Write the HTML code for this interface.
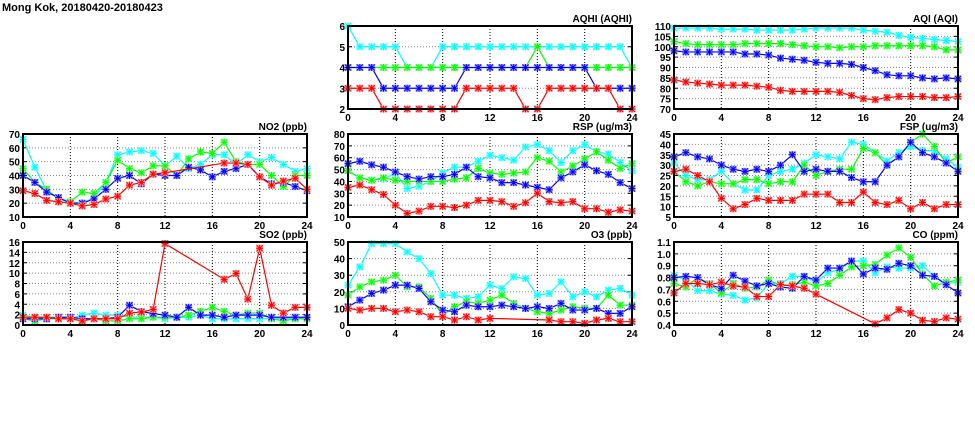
<!DOCTYPE html>
<html><head><meta charset="utf-8"><style>
html,body{margin:0;padding:0;background:#fff;}
svg{display:block;font-family:"Liberation Sans",sans-serif;}
text{font-weight:bold;font-size:10px;fill:#000;}
</style></head><body>
<svg id="chart" width="975" height="447" viewBox="0 0 975 447" xmlns="http://www.w3.org/2000/svg">
<text x="2" y="11" style="font-size:11px">Mong Kok, 20180420-20180423</text>
</svg>
<script>
const hours = [0,1,2,3,4,5,6,7,8,9,10,11,12,13,14,15,16,17,18,19,20,21,22,23,24];
const xTicks = [0,4,8,12,16,20,24];
const seriesColors = ["#00ffff","#00ff00","#0000ff","#ff0000"];
const seriesLight = ["#a0ffff","#a0ffa0","#a0a0ff","#ffa0a0"];

const aqhiCyan = [6,5,5,5,5,4,4,4,5,5,5,5,5,5,5,5,5,5,5,5,5,5,5,5,4];
const aqhiGreen = [4,4,4,4,4,4,4,4,4,4,4,4,4,4,4,4,5,4,4,4,4,4,4,4,4];
const aqhiBlue = [4,4,4,3,3,3,3,3,3,3,4,4,4,4,4,4,4,4,4,4,4,3,3,3,3];
const aqhiRed = [3,3,3,2,2,2,2,2,2,2,3,3,3,3,3,2,2,3,3,3,3,3,3,2,2];
const aqhiTicks = [2,3,4,5,6];

const aqiCyan = [109,109,109,109,108.5,108.5,108.5,108,108,108,108,108.5,109,109,109,109,108,107.5,107,105.5,104.5,104,103.5,103,102.5];
const aqiGreen = [102.5,101.5,101,101,101,101,101.5,101.5,101.5,101.5,101,100.5,100,100,99.5,100,100,100.5,100.5,100.5,100.5,100.5,100,98.5,98.5];
const aqiBlue = [98,97.5,97.5,97.5,97.5,97.5,96.5,96.5,96,94.5,94,93.5,92.5,92,92,91.5,90,88.5,86.5,86,86,85,84.5,85,84.5];
const aqiRed = [84,83,82.5,82,81.5,81.5,81.5,81,80.5,79,78.5,78.5,78.5,78.5,78,76.5,75,74.5,75.5,76,76,76,75.5,75.5,76];
const aqiTicks = [70,75,80,85,90,95,100,105,110];

const no2Cyan = [66,46,29,24,21,20,24,35,55,57,58,56,47,54,45,48,55,55,48,55,50,53,48,43,45];
const no2Green = [45,35,30,23,21,28,27,35,51,45,42,47,47,40,52,57,56,64,50,48,48,40,32,40,40];
const no2Blue = [40,35,28,24,20,20,23,30,38,40,34,41,40,40,46,44,39,43,45,48,39,34,35,32,29];
const no2Red = [29,27,22,21,20,18,19,23,25,33,35,41,42,null,null,null,null,49,49,48,39,33,36,38,30];
const no2Ticks = [10,20,30,40,50,60,70];

const rspCyan = [49,43,41,42,47,34,36,40,47,52,52,57,62,60,58,69,71,66,56,66,71,65,63,56,49];
const rspGreen = [49,43,41,43,41,40,40,40,40,42,43,51,47,46,47,48,60,57,48,53,59,65,58,51,55];
const rspBlue = [55,57,54,52,48,44,42,44,44,46,52,44,43,39,39,37,35,33,43,48,54,49,46,39,34];
const rspRed = [35,37,33,29,20,13,15,19,19,18,20,24,24,23,19,22,30,23,22,23,17,17,14,16,15];
const rspTicks = [10,20,30,40,50,60,70,80];

const fspCyan = [31,25,23,23,27,21,18,18,25,27,28,31,35,34,33,41,40,36,32,36,39,37,37,33,29];
const fspGreen = [27,22,20,22,21,21,23,23,21,22,22,30,25,27,28,28,38,36,30,34,41,45,39,31,34];
const fspBlue = [34,36,34,33,30,28,27,28,27,30,35,27,28,27,27,24,22,22,30,34,41,36,34,31,27];
const fspRed = [27,28,25,22,14,9,11,14,13,13,13,16,16,16,12,12,17,12,11,13,9,12,9,11,11];
const fspTicks = [5,10,15,20,25,30,35,40,45];

const so2Cyan = [1.9,1.5,1.5,1.5,1.2,1.9,2.3,1.9,1.9,1.5,1.5,1.5,1.2,1.5,1.5,1.9,1.2,1.2,1.2,1.2,1.2,1.2,1.2,1.2,1.2];
const so2Green = [1.2,0.8,1.2,1.2,1.2,0.8,1.2,0.8,0.8,1.2,1.2,1.5,1.5,1.5,1.9,2.6,3.4,2.6,1.9,2.3,2.3,1.2,0.8,1.2,1.2];
const so2Blue = [1.2,1.2,1.2,1.5,1.5,1.2,1.2,1.2,1.5,3.8,2.6,2.2,1.9,1.5,3.4,1.9,1.9,1.5,1.9,1.9,1.9,1.5,1.5,1.5,1.5];
const so2Red = [1.5,1.5,1.5,1.2,1.2,0.8,1.2,1.2,1.2,2.3,2.5,3,15.7,null,null,null,null,8.8,9.9,5,14.8,3.8,2.3,3.4,3.4];
const so2Ticks = [0,2,4,6,8,10,12,14,16];

const o3Cyan = [24,35,49,49,49,44,40,31,18,18,16,17,24,22,29,28,18,19,26,17,20,17,21,22,18];
const o3Green = [18,23,26,27,30,23,23,16,6,11,14,13,15,18,13,10,8,7,9,11,10,10,18,12,12];
const o3Blue = [11,15,19,21,24,24,22,14,9,8,12,11,11,12,11,10,11,10,13,9,9,10,7,7,11];
const o3Red = [10,9,10,10,8,9,8,5,5,3,5,3,4,null,null,null,null,3,2,2,1,3,4,2,2];
const o3Ticks = [0,10,20,30,40,50];

const coCyan = [0.82,0.78,0.69,0.69,0.66,0.65,0.61,0.63,0.75,0.75,0.81,0.81,0.76,0.84,0.87,0.94,0.94,0.84,0.89,0.88,0.88,0.90,0.81,0.75,0.76];
const coGreen = [0.75,0.72,0.80,0.75,0.67,0.75,0.71,0.72,0.78,0.73,0.74,0.76,0.73,0.75,0.82,0.89,0.90,0.91,0.99,1.05,0.97,0.83,0.73,0.76,0.78];
const coBlue = [0.80,0.81,0.80,0.74,0.71,0.82,0.77,0.73,0.75,0.72,0.71,0.81,0.78,0.88,0.88,0.94,0.83,0.88,0.87,0.92,0.90,0.82,0.81,0.74,0.67];
const coRed = [0.67,0.75,0.75,0.74,0.76,0.73,0.72,0.64,0.64,0.74,0.73,0.71,0.66,null,null,null,null,0.41,0.46,0.53,0.50,0.44,0.43,0.46,0.45];
const coTicks = [0.4,0.5,0.6,0.7,0.8,0.9,1.0,1.1];

const NS = "http://www.w3.org/2000/svg";
const svg = document.getElementById("chart");
function mk(tag, attrs, parent) {
  const e = document.createElementNS(NS, tag);
  for (const k in attrs) e.setAttribute(k, attrs[k]);
  (parent || svg).appendChild(e);
  return e;
}

function panel(name, title, left, top, series, yTicks, fmt) {
  const w = 284, h = 83;
  const ymin = yTicks[0], ymax = yTicks[yTicks.length - 1];
  const xs = v => left + (v / 24) * w;
  const ys = v => top + h - (v - ymin) / (ymax - ymin) * h;
  const g = mk("g", {});
  
  
  // grid
  yTicks.forEach((t, i) => {
    if (i > 0 && i < yTicks.length - 1) {
      const l = mk("line", {x1: left, x2: left + w, y1: ys(t), y2: ys(t), stroke: "#888", "stroke-width": 1, "stroke-dasharray": "1,2"}, g);
      
      
    }
    const tx = mk("text", {x: left - 3, y: ys(t) + 4, "text-anchor": "end"}, g);
    
    
    tx.textContent = fmt ? fmt(t) : t;
    mk("line", {x1: left, x2: left + 4, y1: ys(t), y2: ys(t), stroke: "#000"}, g);
    mk("line", {x1: left + w - 4, x2: left + w, y1: ys(t), y2: ys(t), stroke: "#000"}, g);
  });
  xTicks.forEach((t, i) => {
    if (i > 0 && i < xTicks.length - 1) {
      const l = mk("line", {x1: xs(t), x2: xs(t), y1: top, y2: top + h, stroke: "#000", "stroke-width": 1, "stroke-dasharray": "1,2"}, g);
      
      
    }
    const tx = mk("text", {x: xs(t), y: top + h + 12, "text-anchor": "middle"}, g);
    
    
    tx.textContent = t;
  });
  // series
  series.forEach((vals, si) => {
    const pts = [];
    vals.forEach((v, i) => { if (v !== null) pts.push([xs(hours[i]), ys(v)]); });
    const line = mk("polyline", {points: pts.map(p => p.join(",")).join(" "), fill: "none", stroke: seriesColors[si], "stroke-width": 1.2}, g);
    
    
    pts.forEach(p => {
      const m = mk("g", {}, g);
      
      
      mk("rect", {x: p[0] - 3.5, y: p[1] - 3.5, width: 7, height: 7, fill: seriesLight[si]}, m);
      const c = seriesColors[si];
      mk("path", {d: `M${p[0]-3},${p[1]-3}L${p[0]+3},${p[1]+3}M${p[0]-3},${p[1]+3}L${p[0]+3},${p[1]-3}M${p[0]-3.5},${p[1]}L${p[0]+3.5},${p[1]}M${p[0]},${p[1]-3.5}L${p[0]},${p[1]+3.5}`, stroke: c, "stroke-width": 1}, m);
    });
  });
  const box = mk("rect", {x: left, y: top, width: w, height: h, fill: "none", stroke: "#000", "stroke-width": 2}, g);
  
  
  const tt = mk("text", {x: left + w, y: top - 4, "text-anchor": "end"}, g);
  
  
  tt.textContent = title;
}

const c1 = 23, c2 = 348, c3 = 674;
const r1 = 26, r2 = 134, r3 = 242;
panel("aqhi", "AQHI (AQHI)", c2, r1, [aqhiCyan, aqhiGreen, aqhiBlue, aqhiRed], aqhiTicks);
panel("aqi", "AQI (AQI)", c3, r1, [aqiCyan, aqiGreen, aqiBlue, aqiRed], aqiTicks);
panel("no2", "NO2 (ppb)", c1, r2, [no2Cyan, no2Green, no2Blue, no2Red], no2Ticks);
panel("rsp", "RSP (ug/m3)", c2, r2, [rspCyan, rspGreen, rspBlue, rspRed], rspTicks);
panel("fsp", "FSP (ug/m3)", c3, r2, [fspCyan, fspGreen, fspBlue, fspRed], fspTicks);
panel("so2", "SO2 (ppb)", c1, r3, [so2Cyan, so2Green, so2Blue, so2Red], so2Ticks);
panel("o3", "O3 (ppb)", c2, r3, [o3Cyan, o3Green, o3Blue, o3Red], o3Ticks);
panel("co", "CO (ppm)", c3, r3, [coCyan, coGreen, coBlue, coRed], coTicks, v => v.toFixed(1));
</script>
</body></html>
